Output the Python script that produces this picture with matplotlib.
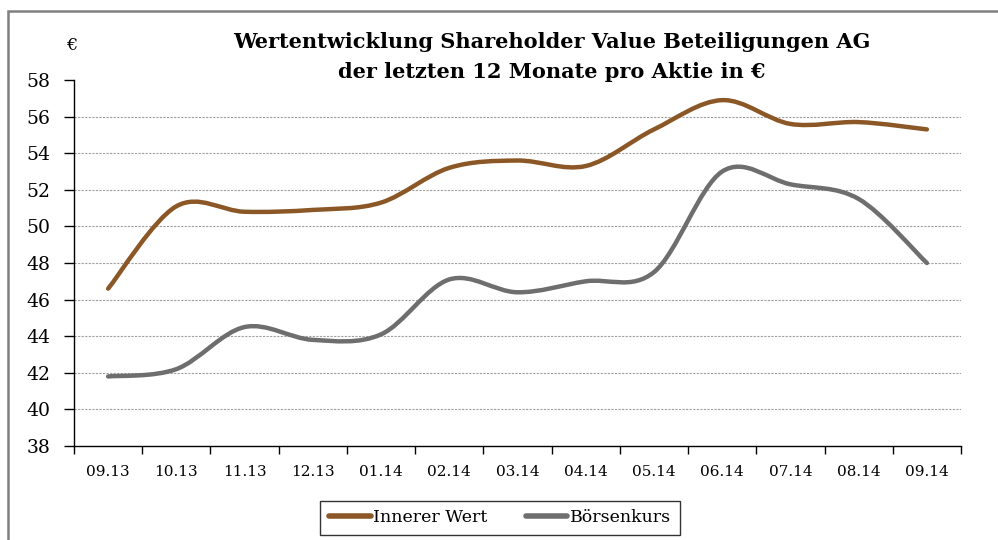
import matplotlib
matplotlib.use("Agg")
import matplotlib.pyplot as plt
from matplotlib.path import Path
from matplotlib.patches import PathPatch, Rectangle
from matplotlib.lines import Line2D

plt.rcParams['font.family'] = ['DejaVu Serif']

# ---- data ----
months = ['09.13', '10.13', '11.13', '12.13', '01.14', '02.14', '03.14',
          '04.14', '05.14', '06.14', '07.14', '08.14', '09.14']
innerer_wert = [46.6, 51.1, 50.8, 50.9, 51.3, 53.2, 53.6, 53.3, 55.3, 56.9, 55.6, 55.7, 55.3]
boersenkurs = [41.8, 42.2, 44.5, 43.8, 44.1, 47.1, 46.4, 47.0, 47.5, 53.0, 52.3, 51.5, 48.0]
y_ticks = [38, 40, 42, 44, 46, 48, 50, 52, 54, 56, 58]

brown = '#8B5726'
grey = '#6E6E6E'


def smooth_path(xs, ys):
    """Excel-like smoothed line: cubic bezier through every point."""
    pts = list(zip(xs, ys))
    n = len(pts)
    verts = [pts[0]]
    codes = [Path.MOVETO]
    for i in range(n - 1):
        p0 = pts[max(i - 1, 0)]
        p1 = pts[i]
        p2 = pts[i + 1]
        p3 = pts[min(i + 2, n - 1)]
        c1 = (p1[0] + (p2[0] - p0[0]) / 6, p1[1] + (p2[1] - p0[1]) / 6)
        c2 = (p2[0] - (p3[0] - p1[0]) / 6, p2[1] - (p3[1] - p1[1]) / 6)
        verts += [c1, c2, p2]
        codes += [Path.CURVE4] * 3
    return Path(verts, codes)


fig = plt.figure(figsize=(9.98, 5.40), dpi=100)

# outer chart frame (cut at right/bottom like the screenshot)
fig.patches.append(Rectangle((8 / 998, -0.05), 1.1, 1 - 11 / 540 + 0.05,
                             transform=fig.transFigure, fill=False,
                             edgecolor='#7F7F7F', lw=1.8))

ax = fig.add_axes([74 / 998, 1 - 446 / 540, (961 - 74) / 998, (446 - 80) / 540])

x = list(range(len(months)))
for vals, col in [(innerer_wert, brown), (boersenkurs, grey)]:
    ax.add_patch(PathPatch(smooth_path(x, vals), fill=False, edgecolor=col,
                           lw=3.2, capstyle='round', joinstyle='round', zorder=3))

ax.set_xlim(-0.5, len(months) - 0.5)
ax.set_ylim(y_ticks[0], y_ticks[-1])

# dashed gridlines (none on the top value)
for v in y_ticks[1:-1]:
    ax.axhline(v, color='#A0A0A0', lw=0.8, ls=(0, (2, 1.2)), zorder=1)

ax.set_yticks(y_ticks)
ax.set_yticklabels([str(v) for v in y_ticks], fontsize=13.5)
ax.tick_params(axis='y', direction='out', length=7, width=1, pad=10)

# ticks between categories, labels centred
ax.set_xticks([i - 0.5 for i in range(len(months) + 1)])
ax.set_xticklabels([])
ax.set_xticks(x, minor=True)
ax.set_xticklabels(months, minor=True, fontsize=11)
ax.tick_params(axis='x', which='major', direction='out', length=6, width=1)
ax.tick_params(axis='x', which='minor', length=0, pad=14)

for s in ['top', 'right']:
    ax.spines[s].set_visible(False)
for s in ['left', 'bottom']:
    ax.spines[s].set_linewidth(1.0)
    ax.spines[s].set_color('black')

fig.text(552 / 998, 1 - 42 / 540, 'Wertentwicklung Shareholder Value Beteiligungen AG',
         ha='center', va='center', fontsize=15, fontweight='bold')
fig.text(552 / 998, 1 - 72 / 540, 'der letzten 12 Monate pro Aktie in €',
         ha='center', va='center', fontsize=15, fontweight='bold')
fig.text(72 / 998, 1 - 45 / 540, '€', ha='center', va='center', fontsize=12.5)

handles = [Line2D([], [], color=brown, lw=4, solid_capstyle='round'),
           Line2D([], [], color=grey, lw=4, solid_capstyle='round')]
leg = fig.legend(handles, ['Innerer Wert', 'Börsenkurs'], ncol=2,
                 loc='center', bbox_to_anchor=(500 / 998, 1 - 518 / 540),
                 fontsize=12.5, frameon=True, fancybox=False, edgecolor='black',
                 handlelength=2.4, handletextpad=0.15, columnspacing=2.2,
                 borderpad=0.5)
leg.get_frame().set_linewidth(1.0)

fig.savefig('out.png', dpi=100, facecolor='white')
